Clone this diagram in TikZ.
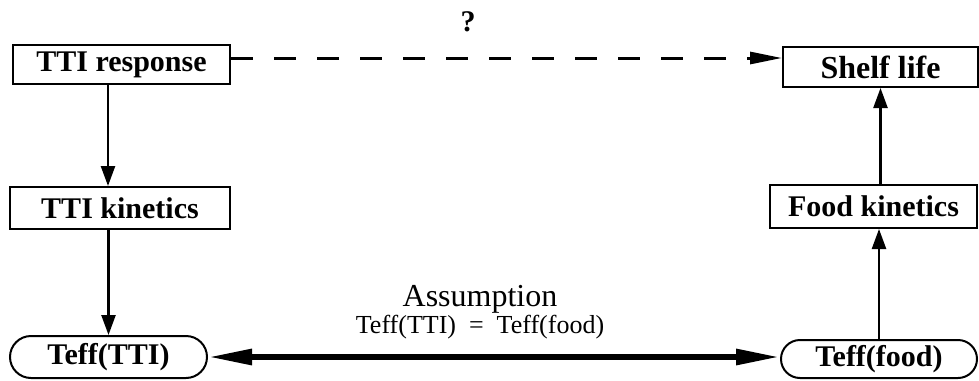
\documentclass[tikz,border=0pt]{standalone}
\usepackage{fontspec}
\setmainfont{Liberation Serif}
\usetikzlibrary{arrows.meta, shapes.misc, calc}

\begin{document}
\begin{tikzpicture}[
        x=0.5pt, y=-0.5pt,
        box/.style={draw, line width=1pt, inner sep=0pt, font=\fontsize{15}{17}\selectfont\bfseries, align=center},
        oval/.style={draw, line width=1pt, rounded rectangle, inner sep=0pt, font=\fontsize{15}{17}\selectfont\bfseries},
        arr/.style={-{Triangle[length=10pt, width=7pt]}, line width=1.2pt},
        dasharr/.style={-{Triangle[length=16pt, width=6pt]}, line width=1.5pt, dash pattern=on 11pt off 10.5pt},
        dblarr/.style={{Triangle[length=22pt, width=7.5pt]}-{Triangle[length=22pt, width=7.5pt]}, line width=3pt}
      ]
        \useasboundingbox (0,0) rectangle (979,380);
        % left column
        \node[box, minimum width=108.5pt, minimum height=19.5pt] (resp)  at (121.5,64.5) {TTI response};
        \node[box, minimum width=110pt,   minimum height=21pt]   (tkin)  at (120,208)    {TTI kinetics};
        \node[oval, minimum width=98.5pt, minimum height=21pt]   (tteff) at (108.5,357)  {Teff(TTI)};
        % right column
        \node[box, minimum width=97.5pt,  minimum height=20pt, font=\fontsize{16}{18}\selectfont\bfseries] (shelf) at (880.5,67) {Shelf life};
        \node[box, minimum width=103.5pt, minimum height=21.5pt] (fkin)  at (873.5,206.5) {Food kinetics};
        \node[oval, minimum width=98pt,   minimum height=19pt]   (fteff) at (879,359)    {Teff(food)};
        \node[font=\fontsize{15}{17}\selectfont\bfseries] (qmark) at (468,22) {?};
        % connectors
        \draw[dasharr] ([yshift=3.25pt]resp.east) -- ([yshift=3.25pt]resp.east -| shelf.west);
        \draw[arr] ($(resp.south)+(-13.5,0)$) -- ($(resp.south |- tkin.north)+(-13.5,0)$);
        \draw[arr] (tkin.south -| tteff.north) -- (tteff.north);
        \draw[arr] (fteff.north) -- (fteff.north |- fkin.south);
        \draw[arr] (fkin.north -| shelf.south) -- (shelf.south);
        \draw[dblarr] (tteff.east) -- node[above=4pt, xshift=-7pt, align=center, font=\fontsize{13}{12.5}\selectfont] (assum)
          {{\fontsize{16}{12.5}\selectfont Assumption}\\Teff(TTI) \ = \ Teff(food)} (tteff.east -| fteff.west);
      \end{tikzpicture}
\end{document}
